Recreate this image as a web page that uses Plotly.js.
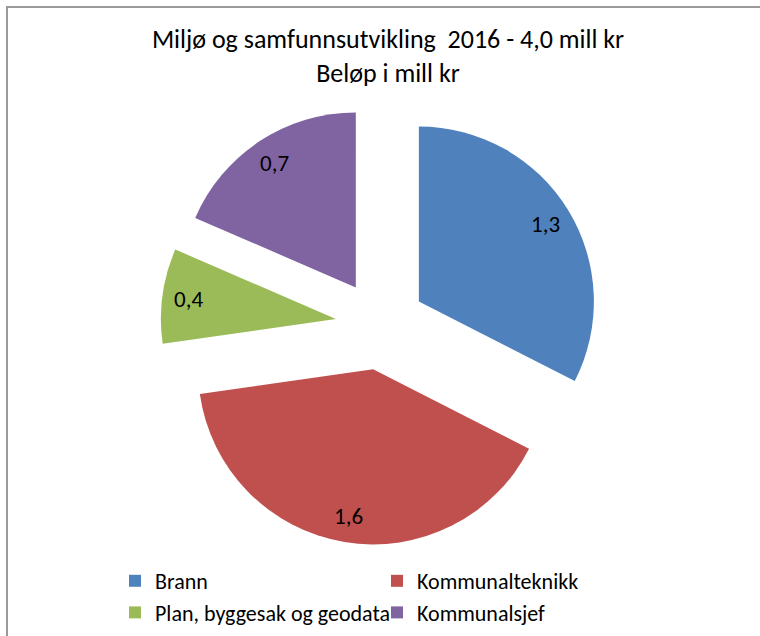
<!DOCTYPE html>
<html>
<head>
<meta charset="utf-8">
<script src="https://cdn.plot.ly/plotly-3.0.1.min.js"></script>
<style>
  html, body { margin: 0; padding: 0; background: #ffffff; }
  #wrap { position: relative; width: 760px; height: 636px; overflow: hidden; }
  #chart { position: absolute; left: 0; top: 0; width: 760px; height: 636px; }
  #frame { position: absolute; left: 6px; top: 6px; width: 800px; height: 700px;
           border-left: 2px solid #9a9a9a; border-top: 2px solid #9a9a9a; pointer-events: none; }
</style>
</head>
<body>
<div id="wrap"><div id="chart"></div><div id="frame"></div></div>
<script>
// ---- data ----
const categories = ["Brann", "Kommunalteknikk", "Plan, byggesak og geodata", "Kommunalsjef"];
const values = [1.30, 1.61, 0.35, 0.74];
const colors = ["#4F81BD", "#C0504D", "#9BBB59", "#8064A2"];
const titleLines = ["Miljø og samfunnsutvikling&nbsp; 2016 - 4,0 mill kr", "Beløp i mill kr"];

// ---- layout geometry ----
const W = 760, H = 636;
const FONT = "Carlito, 'Liberation Sans Narrow', sans-serif";
const pull = 0.257;
const cxPx = 380.5, cyPx = 325, boxPx = 440;
const domX = [(cxPx - boxPx / 2) / W, (cxPx + boxPx / 2) / W];
const domY = [(H - cyPx - boxPx / 2) / H, (H - cyPx + boxPx / 2) / H];
const rPx = boxPx / (2 + 2 * pull);
const labelFrac = 0.85; // label distance from slice tip, as fraction of radius

function fmt(v) { return (Math.round(v * 10) / 10).toFixed(1).replace(".", ","); }

// label annotations computed from the values
const total = values.reduce((a, b) => a + b, 0);
let cum = 0;
const annotations = values.map((v, i) => {
  const mid = (cum + v / 2) / total * 2 * Math.PI;
  cum += v;
  const d = (pull + labelFrac) * rPx;
  return {
    xref: "paper", yref: "paper",
    x: cxPx / W + d * Math.sin(mid) / W,
    y: (H - cyPx) / H + d * Math.cos(mid) / H,
    text: fmt(v),
    showarrow: false,
    font: { family: FONT, size: 23, color: "#000000" },
    xanchor: "center", yanchor: "middle"
  };
});

const trace = {
  type: "pie",
  labels: categories,
  values: values,
  sort: false,
  direction: "clockwise",
  rotation: 0,
  pull: values.map(() => pull),
  marker: { colors: colors, line: { width: 0 } },
  textinfo: "none",
  textposition: "none",
  hoverinfo: "label+value",
  domain: { x: domX, y: domY }
};

const layout = {
  width: W, height: H,
  margin: { l: 0, r: 0, t: 0, b: 0 },
  paper_bgcolor: "#ffffff",
  separators: ", ",
  title: {
    text: titleLines.join("<br>"),
    font: { family: FONT, size: 26, color: "#000000" },
    x: 388 / W, xref: "container", xanchor: "center",
    y: 1 - 48 / H, yref: "container", yanchor: "top"
  },
  showlegend: true,
  legend: {
    orientation: "h",
    xref: "paper", yref: "paper",
    x: 115 / W, xanchor: "left",
    y: 1 - 560 / H, yanchor: "top",
    entrywidth: 217, entrywidthmode: "pixels",
    font: { family: FONT, size: 22, color: "#000000" },
    bgcolor: "rgba(0,0,0,0)"
  },
  annotations: annotations
};

Plotly.newPlot("chart", [trace], layout, { displayModeBar: false, staticPlot: true });
</script>
</body>
</html>
